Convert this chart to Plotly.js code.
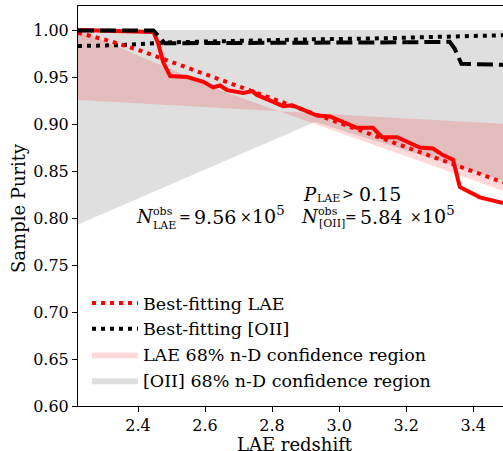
<!DOCTYPE html>
<html>
<head>
<meta charset="utf-8">
<script src="https://cdn.plot.ly/plotly-3.0.1.min.js"></script>
<style>
  html, body { margin: 0; padding: 0; background: #fff; overflow: hidden; }
  #chart { width: 503px; height: 451px; }
</style>
</head>
<body>
<div id="chart"></div>
<script>
// ---------------- data ----------------
// Observed LAE sample purity (red solid)
const laeObsZ = [2.221, 2.446, 2.460, 2.475, 2.496, 2.547, 2.595, 2.624, 2.645, 2.666, 2.714, 2.741, 2.755, 2.794, 2.833, 2.860, 2.893, 2.934, 2.973, 3.012, 3.053, 3.101, 3.128, 3.173, 3.202, 3.241, 3.280, 3.310, 3.340, 3.360, 3.376, 3.420, 3.489];
const laeObsP = [1.000, 0.998, 0.986, 0.966, 0.951, 0.950, 0.945, 0.939, 0.941, 0.936, 0.933, 0.935, 0.931, 0.925, 0.919, 0.920, 0.915, 0.909, 0.908, 0.902, 0.896, 0.896, 0.886, 0.886, 0.881, 0.875, 0.874, 0.867, 0.862, 0.833, 0.830, 0.822, 0.816];

// Observed [OII] sample purity (black dashed)
const oiiObsZ = [2.221, 2.446, 2.480, 2.600, 2.800, 3.000, 3.200, 3.330, 3.345, 3.365, 3.489];
const oiiObsP = [0.9995, 0.9995, 0.986, 0.986, 0.9865, 0.987, 0.987, 0.9875, 0.980, 0.964, 0.963];

// Best-fitting LAE (red dotted)
const laeFitZ = [2.221, 2.3, 2.4, 2.5, 2.6, 2.7, 2.8, 2.9, 3.0, 3.1, 3.2, 3.3, 3.4, 3.489];
const laeFitP = [0.997, 0.990, 0.979, 0.966, 0.953, 0.940, 0.927, 0.914, 0.901, 0.889, 0.876, 0.863, 0.850, 0.838];

// Best-fitting [OII] (black dotted)
const oiiFitZ = [2.221, 2.35, 2.5, 2.7, 2.9, 3.1, 3.3, 3.489];
const oiiFitP = [0.983, 0.984, 0.987, 0.989, 0.990, 0.991, 0.993, 0.9945];

// LAE 68% n-D confidence region (upper / lower envelope)
const laeBandZ  = [2.221, 2.645, 2.821, 3.489];
const laeBandHi = [1.000, 0.936, 0.9136, 0.9003];
const laeBandLo = [0.9255, 0.9171, 0.9136, 0.829];

// [OII] 68% n-D confidence region
const oiiBandZ  = [2.221, 2.928, 3.489];
const oiiBandHi = [1.000, 1.000, 1.000];
const oiiBandLo = [0.793, 0.9023, 0.840];

const xTicks = [2.4, 2.6, 2.8, 3.0, 3.2, 3.4];
const yTicks = [0.60, 0.65, 0.70, 0.75, 0.80, 0.85, 0.90, 0.95, 1.00];

const legendNames = ["Best-fitting LAE", "Best-fitting [OII]", "LAE 68% n-D confidence region", "[OII] 68% n-D confidence region"];
const xTitle = "LAE redshift";
const yTitle = "Sample Purity";

// annotation values: P_LAE > 0.15 ; N^obs_LAE = 9.56 x 10^5 ; N^obs_[OII] = 5.84 x 10^5
const pCut = "0.15";
const nLae = "9.56";
const nOii = "5.84";
const nExp = "5";

// ---------------- helpers ----------------
function polygon(z, hi, lo) {
  return { x: z.concat(z.slice().reverse()), y: hi.concat(lo.slice().reverse()) };
}
const FONT = "DejaVu Serif";
const W = 503, H = 451;
const M = { l: 78, r: 0, t: 6, b: 45 };
const PW = W - M.l - M.r, PH = H - M.t - M.b;
const px = v => (v - M.l) / PW;
const py = v => (M.t + PH - v) / PH;

const oiiPoly = polygon(oiiBandZ, oiiBandHi, oiiBandLo);
const laePoly = polygon(laeBandZ, laeBandHi, laeBandLo);

const traces = [
  { x: oiiPoly.x, y: oiiPoly.y, type: "scatter", mode: "lines", fill: "toself",
    fillcolor: "rgba(128,128,128,0.25)", line: { width: 0 }, name: legendNames[3],
    legendrank: 4, legendgroup: "d", hoverinfo: "skip" },
  { x: laePoly.x, y: laePoly.y, type: "scatter", mode: "lines", fill: "toself",
    fillcolor: "rgba(255,0,0,0.15)", line: { width: 0 }, name: legendNames[2],
    legendrank: 3, legendgroup: "c", hoverinfo: "skip" },
  { x: oiiFitZ, y: oiiFitP, type: "scatter", mode: "lines",
    line: { color: "black", width: 4, dash: "4px,5px" }, name: legendNames[1],
    legendrank: 2, legendgroup: "b" },
  { x: laeFitZ, y: laeFitP, type: "scatter", mode: "lines",
    line: { color: "red", width: 4, dash: "4px,5px" }, name: legendNames[0],
    legendrank: 1, legendgroup: "a" },
  { x: laeObsZ, y: laeObsP, type: "scatter", mode: "lines",
    line: { color: "red", width: 4 }, showlegend: false },
  { x: oiiObsZ, y: oiiObsP, type: "scatter", mode: "lines",
    line: { color: "black", width: 4, dash: "16px,6px" }, showlegend: false }
];

// text pieces are centred on the ink positions measured in the reference
function piece(text, xPix, yPix, size, angle) {
  return { xref: "paper", yref: "paper", x: px(xPix), y: py(yPix),
    xanchor: "center", yanchor: "middle", text: text, showarrow: false,
    borderpad: 0, borderwidth: 0, textangle: angle || 0,
    font: { family: FONT, size: size, color: "black" } };
}
const SUB = 11;
const annotations = [
  // axis titles
  piece(xTitle, 294.5, 444, 18),
  piece(yTitle, 18, 208, 18, -90),
  // P_LAE > 0.15
  piece("<i>P</i>", 310, 194, 18),
  piece("LAE", 328.7, 198.3, SUB),
  piece(">", 347.5, 194, 14),
  piece(pCut, 380, 194, 19),
  // N^obs_LAE = 9.56 x 10^5
  piece("<i>N</i>", 145, 216.7, 18),
  piece("obs", 163.4, 211.3, SUB),
  piece("LAE", 164.8, 225.6, SUB),
  piece("=", 184.9, 216.7, 14),
  piece(nLae, 214.8, 216.7, 19),
  piece("×", 245.9, 216.7, 14),
  piece("10<sup>" + nExp + "</sup>", 268.5, 215.4, 19),
  // N^obs_[OII] = 5.84 x 10^5
  piece("<i>N</i>", 310, 216.7, 18),
  piece("obs", 328.3, 211.3, SUB),
  piece("[OII]", 331.7, 223.3, SUB),
  piece("=", 350.9, 216.7, 14),
  piece(nOii, 380.8, 216.7, 19),
  piece("×", 415.9, 216.7, 14),
  piece("10<sup>" + nExp + "</sup>", 438.4, 215.4, 19)
];

const layout = {
  width: W, height: H,
  margin: M,
  paper_bgcolor: "white", plot_bgcolor: "white",
  font: { family: FONT, size: 16, color: "black" },
  showlegend: true,
  legend: {
    x: px(87), y: py(285), xanchor: "left", yanchor: "top",
    bgcolor: "rgba(0,0,0,0)", borderwidth: 0,
    font: { family: FONT, size: 17.5, color: "black" },
    traceorder: "grouped", tracegroupgap: 0, itemwidth: 46
  },
  xaxis: {
    range: [2.221, 3.489], tickvals: xTicks, ticktext: xTicks.map(v => v.toFixed(1)),
    showgrid: false, zeroline: false, showline: true, linecolor: "black", linewidth: 1,
    mirror: true, ticks: "outside", ticklen: 5, tickwidth: 1, tickcolor: "black",
    tickfont: { family: FONT, size: 16, color: "black" }
  },
  yaxis: {
    range: [0.6, 1.0256], tickvals: yTicks, ticktext: yTicks.map(v => v.toFixed(2)),
    showgrid: false, zeroline: false, showline: true, linecolor: "black", linewidth: 1,
    mirror: false, ticks: "outside", ticklen: 5, tickwidth: 1, tickcolor: "black",
    tickfont: { family: FONT, size: 16, color: "black" }
  },
  annotations: annotations
};

Plotly.newPlot("chart", traces, layout, { staticPlot: true, displayModeBar: false });
</script>
</body>
</html>
